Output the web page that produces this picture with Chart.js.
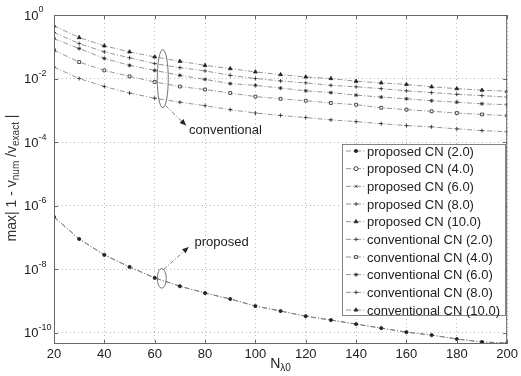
<!DOCTYPE html>
<html>
<head>
<meta charset="utf-8">
<script src="https://cdn.jsdelivr.net/npm/chart.js@4.4.1/dist/chart.umd.min.js"></script>
<style>
  html, body { margin: 0; padding: 0; background: #fff; }
  #wrap { width: 521px; height: 376px; }
</style>
</head>
<body>
<div id="wrap"><canvas id="chart" width="521" height="376"></canvas></div>
<script>
// N_lambda0 (points per wavelength)
const nValues = [20, 30, 40, 50, 60, 70, 80, 90, 100, 110, 120, 130, 140, 150, 160, 170, 180, 190, 200];

// proposed scheme: the five Courant numbers lie on top of each other
const proposedErr = [4.4e-7, 8.9e-8, 2.8e-8, 1.17e-8, 5.3e-9, 2.9e-9, 1.77e-9, 1.15e-9, 6.9e-10, 4.8e-10,
                     3.3e-10, 2.5e-10, 1.86e-10, 1.39e-10, 1.04e-10, 8.4e-11, 6.3e-11, 5.1e-11, 4.7e-11];

const convCN2  = [0.023, 0.0100, 0.0056, 0.0035, 0.0024, 0.0018, 0.0014, 0.00105, 0.00082, 0.00069,
                  0.00059, 0.00050, 0.00044, 0.00038, 0.00033, 0.00030, 0.00026, 0.00023, 0.00021];
const convCN4  = [0.078, 0.033, 0.018, 0.0117, 0.0078, 0.0056, 0.0045, 0.0035, 0.0027, 0.0023,
                  0.0020, 0.0017, 0.0015, 0.0012, 0.00105, 0.00093, 0.00082, 0.00074, 0.00068];
const convCN6  = [0.18, 0.088, 0.043, 0.026, 0.018, 0.0126, 0.0094, 0.0069, 0.0061, 0.0050,
                  0.0041, 0.0036, 0.0030, 0.0026, 0.0023, 0.0020, 0.0018, 0.0016, 0.0015];
const convCN8  = [0.28, 0.126, 0.069, 0.045, 0.0295, 0.022, 0.0174, 0.0126, 0.0100, 0.0084,
                  0.0073, 0.0061, 0.0055, 0.0048, 0.0041, 0.0036, 0.0032, 0.0029, 0.0026];
const convCN10 = [0.457, 0.195, 0.107, 0.069, 0.048, 0.035, 0.026, 0.0205, 0.0162, 0.0133,
                  0.0112, 0.0100, 0.0082, 0.0073, 0.0065, 0.0055, 0.0048, 0.0043, 0.0040];

const seriesLabels = ['proposed CN (2.0)', 'proposed CN (4.0)', 'proposed CN (6.0)', 'proposed CN (8.0)', 'proposed CN (10.0)',
                      'conventional CN (2.0)', 'conventional CN (4.0)', 'conventional CN (6.0)', 'conventional CN (8.0)', 'conventional CN (10.0)'];
const seriesData = [proposedErr, proposedErr, proposedErr, proposedErr, proposedErr,
                    convCN2, convCN4, convCN6, convCN8, convCN10];
const seriesMarkers = ['circle', 'circle', 'crossRot', 'cross', 'triangle',
                       'cross', 'rect', 'star', 'cross', 'triangle'];

const xTicks = [20, 40, 60, 80, 100, 120, 140, 160, 180, 200];
const yTickExps = [0, -2, -4, -6, -8, -10];

const FONT = '"Liberation Sans", Arial, Helvetica, sans-serif';
const LINE = '#7a7a7a';
const INK = '#222';

function markerFill(i) {
    return (seriesMarkers[i] === 'circle' && i === 1) || seriesMarkers[i] === 'rect' ? '#fff' : INK;
}
function markerSize(i) {
    if (i === 0) return 1.6;
    if (seriesMarkers[i] === 'triangle') return 2.2;
    return 2.0;
}

const datasets = seriesLabels.map((label, i) => ({
    label: label,
    data: nValues.map((n, k) => ({ x: n, y: seriesData[i][k] })),
    borderColor: i < 5 ? 'rgba(110,110,110,0.45)' : LINE,
    borderWidth: 0.8,
    borderDash: [5, 2, 1, 2],
    pointStyle: seriesMarkers[i],
    pointRadius: i > 0 && i < 5 ? 0 : markerSize(i),
    pointBorderWidth: 0.8,
    pointBorderColor: INK,
    pointBackgroundColor: markerFill(i),
    tension: 0
}));

// text with a sub/superscript piece, drawn left to right from x
function richText(ctx, parts, x, y) {
    parts.forEach(p => {
        ctx.font = p.size + 'px ' + FONT;
        ctx.fillText(p.t, x, y + (p.dy || 0));
        x += ctx.measureText(p.t).width;
    });
    return x;
}
function richWidth(ctx, parts) {
    let w = 0;
    parts.forEach(p => { ctx.font = p.size + 'px ' + FONT; w += ctx.measureText(p.t).width; });
    return w;
}

function arrow(ctx, x1, y1, x2, y2) {
    ctx.setLineDash([4, 2, 1, 2]);
    ctx.beginPath(); ctx.moveTo(x1, y1); ctx.lineTo(x2, y2); ctx.stroke();
    ctx.setLineDash([]);
    const a = Math.atan2(y2 - y1, x2 - x1);
    ctx.beginPath();
    ctx.moveTo(x2, y2);
    ctx.lineTo(x2 - 7 * Math.cos(a - 0.4), y2 - 7 * Math.sin(a - 0.4));
    ctx.lineTo(x2 - 7 * Math.cos(a + 0.4), y2 - 7 * Math.sin(a + 0.4));
    ctx.closePath(); ctx.fill();
}

const decorations = {
    id: 'decorations',
    afterDatasetsDraw(chart) {
        const { ctx, chartArea: a, scales: { x, y } } = chart;
        ctx.save();
        ctx.strokeStyle = '#666';
        ctx.fillStyle = INK;
        ctx.lineWidth = 1;
        ctx.setLineDash([]);

        // axes box and inner tick marks
        ctx.strokeRect(a.left + 0.5, a.top + 0.5, a.right - a.left - 1, a.bottom - a.top - 1);
        ctx.beginPath();
        xTicks.forEach(v => {
            const px = Math.round(x.getPixelForValue(v)) + 0.5;
            ctx.moveTo(px, a.bottom); ctx.lineTo(px, a.bottom - 4);
            ctx.moveTo(px, a.top); ctx.lineTo(px, a.top + 4);
        });
        yTickExps.forEach(e => {
            const py = Math.round(y.getPixelForValue(Math.pow(10, e))) + 0.5;
            ctx.moveTo(a.left, py); ctx.lineTo(a.left + 4, py);
            ctx.moveTo(a.right, py); ctx.lineTo(a.right - 4, py);
        });
        ctx.stroke();

        // y tick labels 10^e
        ctx.textBaseline = 'middle';
        ctx.textAlign = 'left';
        yTickExps.forEach(e => {
            const py = y.getPixelForValue(Math.pow(10, e));
            richText(ctx, [{ t: '10', size: 13 }, { t: e === 0 ? '0' : '-' + (-e), size: 9, dy: -6 }], 24, py + 1);
        });

        // x title N_lambda0
        const xt = [{ t: 'N', size: 14 }, { t: 'λ0', size: 10, dy: 4 }];
        richText(ctx, xt, (a.left + a.right) / 2 - richWidth(ctx, xt) / 2, 364);

        // y title
        ctx.fillStyle = '#333';
        const yt = [{ t: 'max| 1 - v', size: 14 }, { t: 'num', size: 10, dy: 4 }, { t: ' /v', size: 14 },
                    { t: 'exact', size: 10, dy: 4 }, { t: ' |', size: 14 }];
        ctx.save();
        ctx.translate(12, 178);
        ctx.rotate(-Math.PI / 2);
        richText(ctx, yt, -richWidth(ctx, yt) / 2, 0);
        ctx.restore();
        ctx.fillStyle = INK;

        // annotations: ellipses with arrow + label
        ctx.strokeStyle = '#666';
        ctx.lineWidth = 0.9;
        const cx1 = x.getPixelForValue(63.2);
        const ya1 = y.getPixelForValue(Math.pow(10, -1.09)), yb1 = y.getPixelForValue(Math.pow(10, -2.92));
        ctx.beginPath(); ctx.ellipse(cx1, (ya1 + yb1) / 2, 5.5, (yb1 - ya1) / 2, 0, 0, Math.PI * 2); ctx.stroke();
        arrow(ctx, cx1 + 3, yb1 - 2, x.getPixelForValue(72.5), y.getPixelForValue(Math.pow(10, -3.48)));
        ctx.font = '13px ' + FONT;
        ctx.fillText('conventional', x.getPixelForValue(73.6), y.getPixelForValue(Math.pow(10, -3.63)));

        const cx2 = x.getPixelForValue(62.8);
        const ya2 = y.getPixelForValue(Math.pow(10, -7.98)), yb2 = y.getPixelForValue(Math.pow(10, -8.6));
        ctx.beginPath(); ctx.ellipse(cx2, (ya2 + yb2) / 2, 4.5, (yb2 - ya2) / 2, 0, 0, Math.PI * 2); ctx.stroke();
        arrow(ctx, cx2 + 2, ya2 + 1, x.getPixelForValue(73.5), y.getPixelForValue(Math.pow(10, -7.3)));
        ctx.font = '13px ' + FONT;
        ctx.fillText('proposed', x.getPixelForValue(75.8), y.getPixelForValue(Math.pow(10, -7.16)));

        // legend box
        const L = 342, T = 144, R = 505, B = 315;
        ctx.fillStyle = '#fff';
        ctx.fillRect(L, T, R - L, B - T);
        ctx.strokeStyle = '#777';
        ctx.setLineDash([]);
        ctx.strokeRect(L + 0.5, T + 0.5, R - L, B - T);
        const rowH = (B - T - 12) / (seriesLabels.length - 1);
        seriesLabels.forEach((label, i) => {
            const ry = T + 7 + i * rowH;
            ctx.strokeStyle = LINE;
            ctx.lineWidth = 0.8;
            ctx.setLineDash([5, 2, 1, 2]);
            ctx.beginPath(); ctx.moveTo(346, ry); ctx.lineTo(365, ry); ctx.stroke();
            ctx.setLineDash([]);
            ctx.strokeStyle = INK;
            ctx.fillStyle = markerFill(i);
            Chart.helpers.drawPoint(ctx, { pointStyle: seriesMarkers[i], radius: markerSize(i), borderWidth: 0.8, rotation: 0 }, 356, ry);
            ctx.fillStyle = INK;
            ctx.font = '13px ' + FONT;
            ctx.textBaseline = 'middle';
            ctx.fillText(label, 367, ry + 1);
        });
        ctx.restore();
    }
};

new Chart(document.getElementById('chart').getContext('2d'), {
    type: 'line',
    data: { datasets: datasets },
    plugins: [decorations],
    options: {
        responsive: false,
        animation: false,
        events: [],
        layout: { padding: { left: 0, right: 11, top: 15, bottom: 0 } },
        plugins: { legend: { display: false }, tooltip: { enabled: false } },
        scales: {
            x: {
                type: 'linear',
                min: 20,
                max: 200,
                afterBuildTicks: s => { s.ticks = xTicks.map(v => ({ value: v })); },
                afterFit: s => { s.height = 32; },
                grid: { color: '#a8a8a8', drawTicks: false, lineWidth: 0.8 },
                border: { display: false, dash: [1, 3] },
                ticks: { color: INK, font: { size: 13, family: FONT }, padding: 3, maxRotation: 0 }
            },
            y: {
                type: 'logarithmic',
                min: 4.4e-11,
                max: 1,
                afterBuildTicks: s => { s.ticks = yTickExps.map(e => ({ value: Math.pow(10, e) })); },
                afterFit: s => { s.width = 54; },
                grid: { color: '#a8a8a8', drawTicks: false, lineWidth: 0.8 },
                border: { display: false, dash: [1, 3] },
                ticks: { display: false }
            }
        }
    }
});
</script>
</body>
</html>
